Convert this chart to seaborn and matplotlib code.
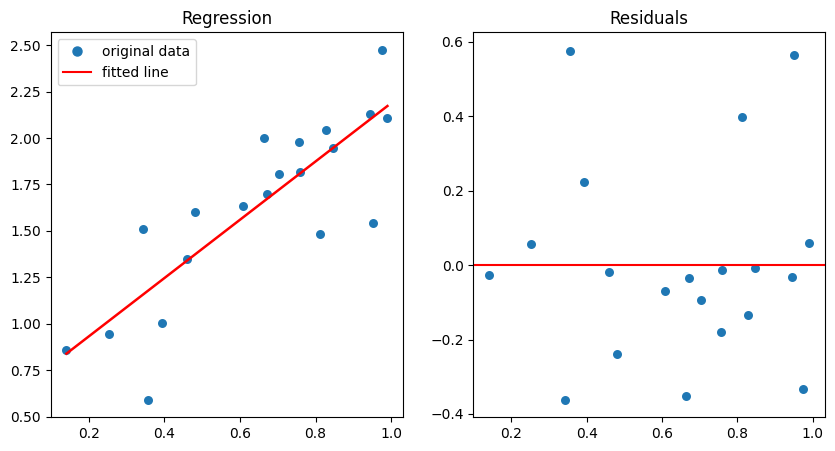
import matplotlib
matplotlib.use("Agg")
import matplotlib.pyplot as plt
from matplotlib.lines import Line2D
import seaborn as sns
import numpy as np

# Data
x = [0.141, 0.253, 0.344, 0.356, 0.393, 0.460, 0.481, 0.609, 0.663, 0.671,
     0.703, 0.755, 0.758, 0.811, 0.828, 0.847, 0.944, 0.951, 0.975, 0.990]
y = [0.860, 0.947, 1.510, 0.591, 1.005, 1.349, 1.601, 1.635, 1.999, 1.700,
     1.805, 1.979, 1.818, 1.483, 2.042, 1.945, 2.128, 1.542, 2.472, 2.106]
residuals = [-0.027, 0.058, -0.3625, 0.575, 0.224, -0.0196, -0.239, -0.070, -0.351, -0.036,
             -0.094, -0.179, -0.014, 0.399, -0.135, -0.008, -0.032, 0.564, -0.332, 0.059]
intercept = 0.618
slope = 1.570

fitted = [intercept + slope * xi for xi in x]

fig = plt.figure(figsize=(8.35, 4.51), dpi=100)
ax1 = fig.add_axes([0.0607, 0.0747, 0.4223, 0.8533])
ax2 = fig.add_axes([0.5668, 0.0747, 0.4212, 0.8533])

blue = "#1f77b4"
sns.scatterplot(x=x, y=y, ax=ax1, color=blue, s=42, linewidth=0)
sns.lineplot(x=x, y=fitted, ax=ax1, color="red", linewidth=1.8, sort=True)
ax1.set_title("Regression")
handles = [
    Line2D([], [], marker="o", linestyle="none", color=blue, markersize=6.5),
    Line2D([], [], color="red", linewidth=1.5),
]
ax1.legend(handles, ["original data", "fitted line"], loc="upper left")
ax1.set_ylim(0.497, 2.568)
ax1.set_xlim(0.0995, 1.032)

sns.scatterplot(x=x, y=residuals, ax=ax2, color=blue, s=42, linewidth=0)
ax2.axhline(0, color="red", linewidth=1.5)
ax2.set_title("Residuals")
ax2.set_xlim(0.0995, 1.032)
ax2.set_ylim(-0.409, 0.625)

fig.savefig("out.png", dpi=100)
